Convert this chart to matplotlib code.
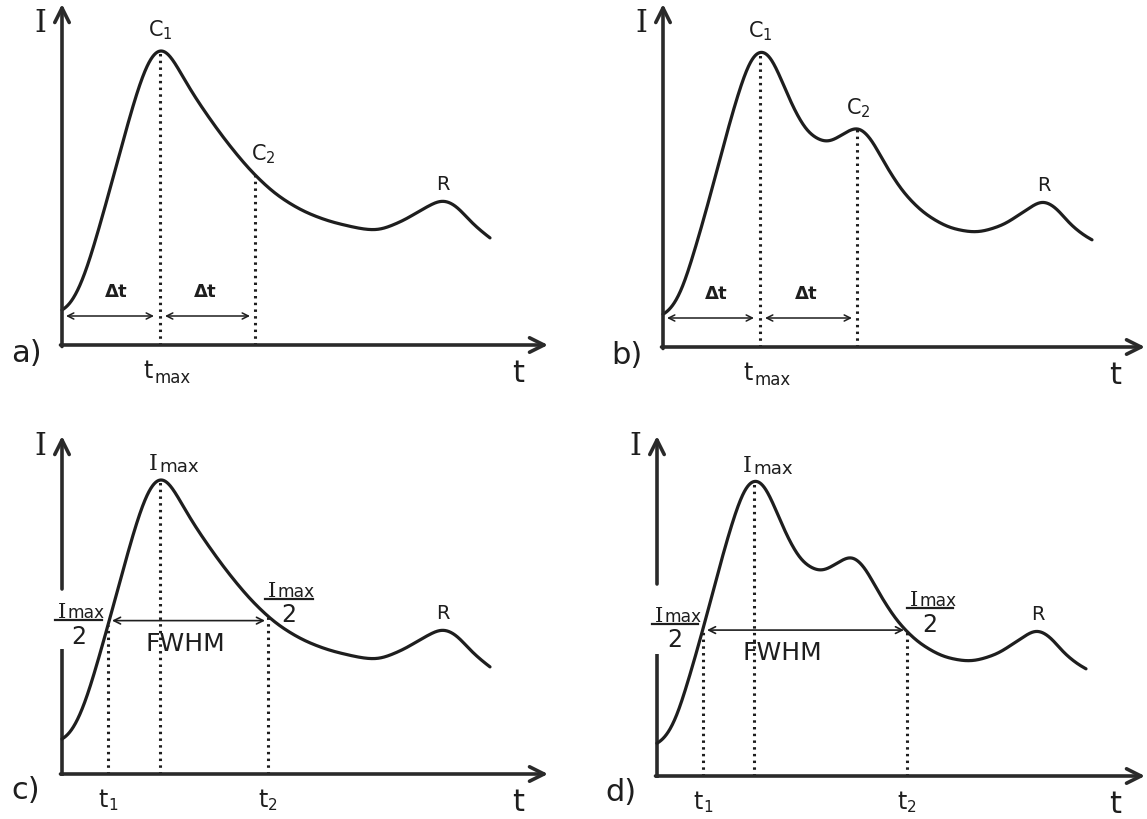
import numpy as np
import matplotlib
matplotlib.use("Agg")
import matplotlib.pyplot as plt

# ---------------- data (t, I in arbitrary units) -------------
# single-peak curve (panels a, c)
t_single = [0, 6, 13, 23, 33, 48, 63, 76, 86, 93, 98, 105, 113, 128, 148, 168, 193,
            218, 248, 278, 313, 338, 363, 381, 393, 408, 428]
I_single = [34, 38, 48, 71, 103, 156, 211, 256, 283, 294, 297, 294, 282, 256, 226,
            199, 170, 148, 131, 121, 115, 123, 137, 145, 140, 124, 107]

# double-peak curve (panels b, d)
t_double = [0, 7, 17, 32, 49, 65, 79, 89, 97, 105, 115, 132, 147, 164, 182, 194, 205,
            222, 242, 267, 292, 312, 337, 362, 380, 392, 407, 429]
I_double = [32, 37, 53, 98, 158, 218, 265, 290, 297, 294, 275, 236, 213, 205, 214, 220,
            212, 183, 153, 130, 118, 115, 121, 136, 146, 140, 123, 107]

# characteristic times
t_max_single = 98
t_c2_single = 193
t_max_double = 97
t_c2_double = 194
t1_single, t2_single = 46, 206
t1_double, t2_double = 46, 250

panel_letters = ["a)", "b)", "c)", "d)"]

# ---------------- helpers ----------------
def pchip(x, y, n=1400):
    x = np.asarray(x, float)
    y = np.asarray(y, float)
    N = len(x)
    h = np.diff(x)
    d = np.diff(y) / h
    m = np.zeros(N)
    for k in range(1, N - 1):
        if d[k - 1] * d[k] <= 0:
            m[k] = 0.0
        else:
            w1 = 2 * h[k] + h[k - 1]
            w2 = h[k] + 2 * h[k - 1]
            m[k] = (w1 + w2) / (w1 / d[k - 1] + w2 / d[k])

    def end(h0, h1, d0, d1):
        mm = ((2 * h0 + h1) * d0 - h0 * d1) / (h0 + h1)
        if np.sign(mm) != np.sign(d0):
            mm = 0.0
        elif np.sign(d0) != np.sign(d1) and abs(mm) > abs(3 * d0):
            mm = 3 * d0
        return mm

    m[0] = end(h[0], h[1], d[0], d[1])
    m[-1] = end(h[-1], h[-2], d[-1], d[-2])
    xs = np.linspace(x[0], x[-1], n)
    idx = np.clip(np.searchsorted(x, xs) - 1, 0, N - 2)
    hh = h[idx]
    s = (xs - x[idx]) / hh
    h00 = 2 * s ** 3 - 3 * s ** 2 + 1
    h10 = s ** 3 - 2 * s ** 2 + s
    h01 = -2 * s ** 3 + 3 * s ** 2
    h11 = s ** 3 - s ** 2
    ys = h00 * y[idx] + h10 * hh * m[idx] + h01 * y[idx + 1] + h11 * hh * m[idx + 1]
    return xs, ys

def smooth(xs, ys, sigma=5.0):
    dx = xs[1] - xs[0]
    k = int(4 * sigma / dx)
    kern = np.exp(-0.5 * (np.arange(-k, k + 1) * dx / sigma) ** 2)
    kern /= kern.sum()
    left = ys[0] + (ys[1] - ys[0]) * np.arange(-k, 0)
    right = ys[-1] + (ys[-1] - ys[-2]) * np.arange(1, k + 1)
    padded = np.concatenate([left, ys, right])
    return xs, np.convolve(padded, kern, mode="valid")

def curve_at(xs, ys, t):
    return float(np.interp(t, xs, ys))

INK = "#1e1e1e"
AXC = "#2a2a2a"

W, H = 1147, 820
fig = plt.figure(figsize=(W / 100, H / 100), dpi=100)
fig.patch.set_facecolor("white")

def make_axes(x0, y0, x1, y1):
    ax = fig.add_axes([x0 / W, 1 - y0 / H, (x1 - x0) / W, (y0 - y1) / H])
    ax.set_xlim(0, x1 - x0)
    ax.set_ylim(0, y0 - y1)
    ax.axis("off")
    return ax

def arrow(ax, start, end, lw=2.6, ms=26, style="->", color=AXC):
    ax.annotate("", xy=end, xytext=start,
                arrowprops=dict(arrowstyle=style, lw=lw, color=color,
                                mutation_scale=ms, shrinkA=0, shrinkB=0),
                annotation_clip=False)

def dotted(ax, t, top):
    ax.plot([t, t], [0, top], color=INK, lw=2.2, linestyle=(0, (0.8, 1.4)),
            solid_capstyle="butt", clip_on=False)

def label(ax, x, y, s, size=15, family="DejaVu Sans", **kw):
    ax.text(x, y, s, fontsize=size, family=family, ha="center", va="center",
            color=INK, clip_on=False, **kw)

SERIF = "DejaVu Serif"

def imax_text(ax, x_left, y_base, size=15, sub_drop=2):
    ax.text(x_left, y_base, "I", fontsize=size, family=SERIF, ha="left",
            va="baseline", color=INK, clip_on=False)
    ax.text(x_left + size * 0.62, y_base - sub_drop, "max", fontsize=size * 0.82,
            family="DejaVu Sans", ha="left", va="baseline", color=INK, clip_on=False)

def fraction(ax, x_from, x_to, ybar, ybot):
    imax_text(ax, x_from + 3, ybar + 3, size=15, sub_drop=0)
    ax.plot([x_from, x_to], [ybar, ybar], color=INK, lw=1.6, clip_on=False)
    label(ax, (x_from + x_to) / 2, ybot, "2", size=17)

boxes = {
    "a": (62, 346, 548, 5),
    "b": (663, 348, 1145, 5),
    "c": (62, 775, 548, 437),
    "d": (657, 777, 1145, 437),
}

xs_s, ys_s = smooth(*pchip(t_single, I_single), sigma=6.0)
xs_d, ys_d = smooth(*pchip(t_double, I_double), sigma=5.5)

for key, letter in zip("abcd", panel_letters):
    x0, y0, x1, y1 = boxes[key]
    ax = make_axes(x0, y0, x1, y1)
    tw, ih = x1 - x0, y0 - y1
    single = key in "ac"
    xs, ys = (xs_s, ys_s) if single else (xs_d, ys_d)

    # axes
    arrow(ax, (-1.5, 0), (tw, 0))
    if key in "ab":
        arrow(ax, (0, -1.5), (0, ih))
    else:
        gap_lo, gap_hi = (125, 185) if key == "c" else (122, 192)
        ax.plot([0, 0], [-1.5, gap_lo], color=AXC, lw=2.6, clip_on=False,
                solid_capstyle="butt")
        arrow(ax, (0, gap_hi), (0, ih))

    # curve
    ax.plot(xs, ys, color=INK, lw=2.3, clip_on=False, solid_capstyle="round")

    # common labels
    label(ax, -22, ih - 18 if key in "ab" else ih - 10, "I", size=22, family=SERIF)
    label(ax, tw - 30, -28, "t", size=22)
    label(ax, -36, -8 if key in "ab" else -16, letter, size=22)
    r_t = 381
    label(ax, r_t, curve_at(xs, ys, r_t) + 18, "R", size=14)

    if key in "ab":
        tm = t_max_single if single else t_max_double
        tc2 = t_c2_single if single else t_c2_double
        peak = curve_at(xs, ys, tm)
        c2 = curve_at(xs, ys, tc2)
        dotted(ax, tm, peak)
        dotted(ax, tc2, c2)
        ax.text(tm, peak + 22, r"$\mathregular{C_1}$", fontsize=15, ha="center",
                va="center", color=INK)
        dx = 8 if single else 1
        ax.text(tc2 + dx, c2 + 22, r"$\mathregular{C_2}$", fontsize=15,
                ha="center", va="center", color=INK)
        ya = 29
        arrow(ax, (4, ya), (tm - 6, ya), lw=1.1, ms=11, style="<->", color=INK)
        arrow(ax, (tm + 5, ya), (tc2 - 5, ya), lw=1.1, ms=11, style="<->", color=INK)
        label(ax, tm / 2 + 5, 54, r"$\mathregular{\Delta t}$", size=13,
              fontweight="bold")
        label(ax, (tm + tc2) / 2 - 2, 54, r"$\mathregular{\Delta t}$", size=13,
              fontweight="bold")
        ax.text(tm - 7, -25, "t", fontsize=17, ha="right", va="center", color=INK)
        ax.text(tm - 6, -32, "max", fontsize=12, ha="left", va="center", color=INK)
    else:
        t1 = t1_single if single else t1_double
        t2 = t2_single if single else t2_double
        tm = t_max_single if single else t_max_double
        peak = curve_at(xs, ys, tm)
        yh1 = curve_at(xs, ys, t1)
        yh2 = curve_at(xs, ys, t2)
        yh = (yh1 + yh2) / 2
        dotted(ax, t1, yh1)
        dotted(ax, tm, peak)
        dotted(ax, t2, yh2)
        imax_text(ax, tm - 11, peak + 11, size=16, sub_drop=2)
        arrow(ax, (t1 + 4, yh), (t2 - 3, yh), lw=1.2, ms=12, style="<->", color=INK)
        label(ax, (t1 + t2) / 2 + (-3 if single else -23), yh - 22, "FWHM", size=18)
        ax.text(t1, -25, "t", fontsize=17, ha="right", va="center", color=INK)
        ax.text(t1, -31, "1", fontsize=11, ha="left", va="center", color=INK)
        ax.text(t2, -25, "t", fontsize=17, ha="right", va="center", color=INK)
        ax.text(t2, -31, "2", fontsize=11, ha="left", va="center", color=INK)
        if single:
            fraction(ax, -7, 40, 154, 138)
            fraction(ax, 203, 251, 175, 160)
        else:
            fraction(ax, -5, 41, 152, 137)
            fraction(ax, 250, 296, 168, 152)

fig.savefig("out.png", dpi=100, facecolor="white")
